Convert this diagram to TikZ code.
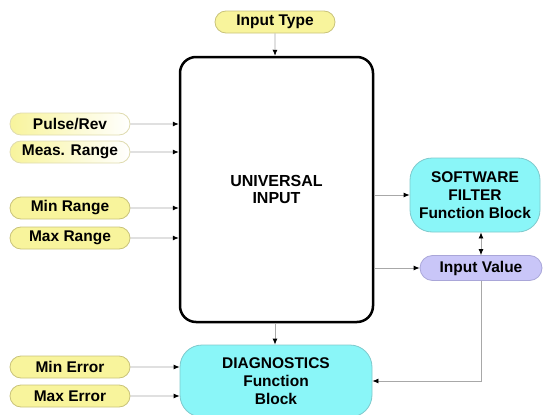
\documentclass[tikz,border=0pt]{standalone}
\usepackage{fontspec}
\setmainfont{Liberation Sans}
\usetikzlibrary{arrows.meta, shapes.misc}

\definecolor{paramYellow}{HTML}{F8F49C}
\definecolor{paramEdge}{HTML}{C9C37A}
\definecolor{blockCyan}{HTML}{8AF6F8}
\definecolor{blockEdge}{HTML}{7FC9CC}
\definecolor{valueLilac}{HTML}{C9C6F8}
\definecolor{valueEdge}{HTML}{A9A6D8}
\definecolor{wireGray}{HTML}{A8A8A8}

\tikzset{
    param/.style={rounded rectangle, draw=paramEdge, fill=paramYellow, line width=0.8pt,
        minimum width=120pt, minimum height=22pt, inner sep=0pt,
        font=\fontsize{15.5}{17}\selectfont\bfseries},
    fadeparam/.style={param, fill=none, left color=paramYellow, right color=white, draw=paramEdge!60},
    block/.style={rounded corners=22pt, draw=blockEdge, fill=blockCyan, line width=0.8pt,
        inner sep=0pt, align=center, font=\fontsize{15.5}{18}\selectfont\bfseries},
    wire/.style={draw=wireGray, line width=0.8pt, -{Latex[length=6pt, width=5pt, color=black]}},
    twowire/.style={draw=wireGray, line width=0.8pt, {Latex[length=6pt, width=5pt, color=black]}-{Latex[length=6pt, width=5pt, color=black]}}
}

\begin{document}
\begin{tikzpicture}[x=1pt, y=-1pt]
    \useasboundingbox (0,0) rectangle (547,415);

    % --- main block ---
    \node[draw, line width=2.5pt, rounded corners=16pt, minimum width=193pt, minimum height=265pt,
        align=center, font=\fontsize{16}{16.5}\selectfont\bfseries] (uin) at (276.5,189.5) {UNIVERSAL\\INPUT};

    % --- setpoints ---
    \node[param] (itype) at (275,22) {Input Type};
    \node[fadeparam] (pulse) at (70,124) {Pulse/Rev};
    \node[fadeparam] (meas) at (70,152) {Meas. Range};
    \node[param] (minr) at (70,208) {Min Range};
    \node[param] (maxr) at (70,238) {Max Range};
    \node[param] (mine) at (70,367) {Min Error};
    \node[param] (maxe) at (70,396) {Max Error};

    % --- function blocks ---
    \node[block, minimum width=130pt, minimum height=74pt] (filter) at (475,195) {SOFTWARE\\FILTER\\Function Block};
    \node[rounded rectangle, draw=valueEdge, fill=valueLilac, line width=0.8pt, minimum width=122pt,
        minimum height=25pt, inner sep=0pt, font=\fontsize{15.5}{17}\selectfont\bfseries] (ival) at (481,268) {Input Value};
    \node[block, minimum width=192pt, minimum height=72pt] (diag) at (276,381) {DIAGNOSTICS\\Function\\Block};

    % --- connectors ---
    \draw[wire] (itype) -- (uin.north -| itype);
    \foreach \p in {pulse, meas, minr, maxr} {
        \draw[wire] (\p) -- (\p -| uin.west);
    }
    \foreach \p in {mine, maxe} {
        \draw[wire] (\p) -- (\p -| diag.west);
    }
    \draw[wire] (uin.east |- filter) -- (filter.west);
    \draw[wire] (uin.east |- ival) -- (ival.west);
    \draw[twowire] (filter.south -| ival) -- (ival.north);
    \draw[wire] (ival.south) |- (diag.east);
    \draw[wire] (uin.south -| itype) -- (diag.north -| itype);
\end{tikzpicture}
\end{document}
